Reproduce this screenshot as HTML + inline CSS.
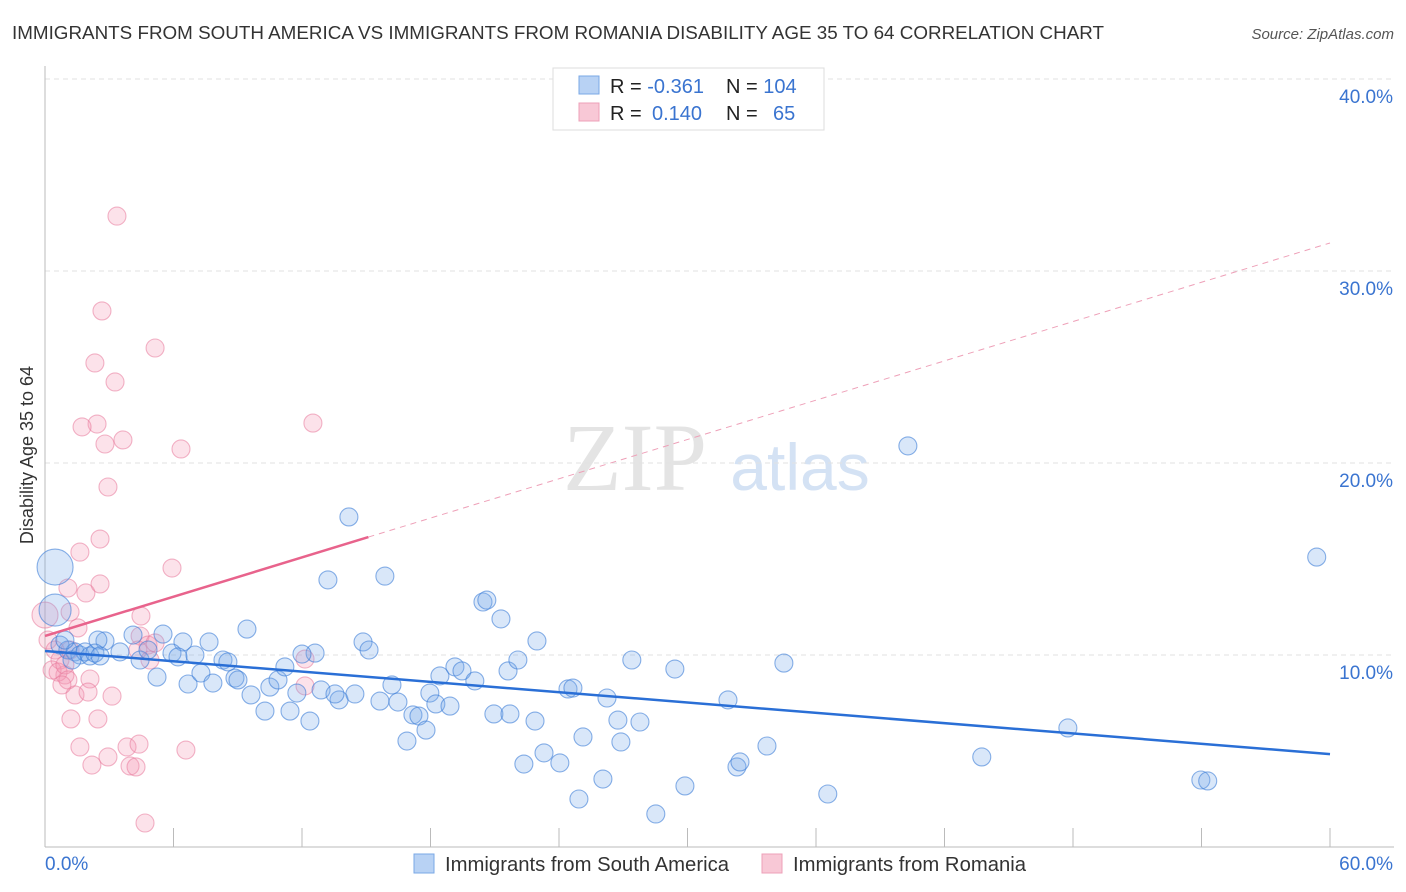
<!DOCTYPE html>
<html><head><meta charset="utf-8"><style>
body{margin:0;background:#fff;font-family:"Liberation Sans",sans-serif}
svg{display:block}
</style></head><body>
<svg id="chart" width="1406" height="892" xmlns="http://www.w3.org/2000/svg">
<text x="12" y="39" font-size="18" fill="#333" textLength="1092" lengthAdjust="spacingAndGlyphs">IMMIGRANTS FROM SOUTH AMERICA VS IMMIGRANTS FROM ROMANIA DISABILITY AGE 35 TO 64 CORRELATION CHART</text>
<text x="1394" y="39" font-size="15" fill="#555" font-style="italic" text-anchor="end">Source: ZipAtlas.com</text>
<text x="635" y="490" font-size="96" fill="#e4e4e4" font-family="Liberation Serif,serif" text-anchor="middle">ZIP</text>
<text x="800" y="490" font-size="66" fill="#d4e2f4" text-anchor="middle">atlas</text>
<text transform="translate(33,455) rotate(-90)" font-size="18" fill="#333" text-anchor="middle">Disability Age 35 to 64</text>
<g id="grid"></g><g id="pts"></g><g id="lines"></g>
<g>
<rect x="553" y="68" width="271" height="62" fill="#fff" stroke="#ddd"/>
<rect x="579" y="76" width="20" height="18" fill="#b8d2f4" stroke="#7aa8e6"/>
<rect x="579" y="103" width="20" height="18" fill="#f8c8d6" stroke="#eea0b8"/>
<text x="610" y="93" font-size="20" fill="#222">R = <tspan fill="#3a74d0">-0.361</tspan></text>
<text x="726" y="93" font-size="20" fill="#222">N = <tspan fill="#3a74d0">104</tspan></text>
<text x="610" y="120" font-size="20" fill="#222">R = <tspan fill="#3a74d0" x="652">0.140</tspan></text>
<text x="726" y="120" font-size="20" fill="#222">N = <tspan fill="#3a74d0" x="773">65</tspan></text>
</g>
<g>
<rect x="414" y="854" width="20" height="19" fill="#b8d2f4" stroke="#7aa8e6"/>
<text x="445" y="871" font-size="20" fill="#333" textLength="284" lengthAdjust="spacingAndGlyphs">Immigrants from South America</text>
<rect x="762" y="854" width="20" height="19" fill="#f8c8d6" stroke="#eea0b8"/>
<text x="793" y="871" font-size="20" fill="#333" textLength="233" lengthAdjust="spacingAndGlyphs">Immigrants from Romania</text>
</g>
</svg>
<script>
const yTicks=[10,20,30,40];
const yTickLabels=["10.0%","20.0%","30.0%","40.0%"];
const xTickVals=[0,6,12,18,24,30,36,42,48,54,60];
const blueX=[14.19,40.29,59.38,13.21,15.87,20.45,20.63,21.29,22.97,14.85,15.13,12.61,12.00,9.43,7.66,6.44,5.51,4.11,2.80,2.47,3.50,4.44,4.81,5.93,6.21,7.00,8.31,8.54,5.23,6.68,7.28,7.84,8.87,9.01,9.62,10.27,10.50,10.88,11.20,11.44,11.76,12.37,12.89,13.73,13.54,14.47,15.64,16.20,16.48,16.90,17.18,17.46,17.79,17.97,18.25,18.44,18.91,19.14,19.47,20.07,20.96,21.71,21.62,22.08,22.88,22.36,23.30,24.04,24.42,24.65,24.93,25.12,26.05,26.24,26.75,26.89,27.40,27.78,28.52,29.41,29.88,31.89,32.31,32.45,33.71,34.50,36.55,43.74,47.76,53.97,54.29,0.70,1.07,1.40,1.63,1.87,2.10,2.33,2.57,0.93,1.26,0.47,0.47];
const blueY=[17.19,20.89,15.10,13.91,14.11,12.76,12.86,11.88,10.73,10.68,10.26,10.10,10.05,11.35,10.68,10.68,11.09,11.04,10.73,10.78,10.16,9.74,10.26,10.10,9.90,10.00,9.74,9.64,8.85,8.49,9.06,8.54,8.80,8.70,7.92,7.08,8.33,8.70,9.38,7.08,8.02,6.56,8.18,7.66,7.97,7.97,7.60,8.44,7.55,5.52,6.88,6.82,6.09,8.02,7.45,8.91,7.34,9.38,9.17,8.65,6.93,6.93,9.17,9.74,6.56,4.32,4.90,4.38,8.23,8.28,2.50,5.73,3.54,7.76,6.61,5.47,9.74,6.51,1.72,9.27,3.18,7.66,4.17,4.43,5.26,9.58,2.76,4.69,6.20,3.49,3.44,10.52,10.26,10.16,10.0,10.16,9.95,10.10,9.95,10.78,9.74,14.58,12.34];
const blueBig={101:18,102:16};
const pinkX=[3.36,2.66,5.14,2.33,3.27,2.43,1.73,2.80,3.64,6.35,12.51,2.94,2.57,1.63,5.93,1.07,1.91,2.57,1.54,1.17,4.48,4.44,4.81,5.14,4.34,4.90,12.14,12.14,2.10,0.93,1.40,2.01,3.13,1.21,2.47,1.63,2.19,2.94,3.83,4.39,3.97,4.25,4.67,6.58,0.14,0.47,0.70,0.33,0.61,0.93,1.07,0.79,1.17,0.0];
const pinkY=[32.86,27.92,25.99,25.21,24.22,22.03,21.88,20.99,21.20,20.73,22.08,18.75,16.04,15.36,14.53,13.49,13.23,13.70,11.41,12.24,12.03,10.99,10.52,10.63,10.26,9.74,9.79,8.39,8.75,8.96,7.92,8.07,7.86,6.67,6.67,5.21,4.27,4.69,5.21,5.36,4.22,4.17,1.25,5.05,10.78,10.26,9.74,9.22,9.11,9.48,8.70,8.44,10.26,12.08];
const blueTrend=[10.21,4.84];
const pinkTrend=[10.99,31.46];
const pinkSolidEnd=15.1;
const X=v=>45+v*1285/60, Y=v=>847-v*19.2;
const NS="http://www.w3.org/2000/svg";
function mk(tag,attrs,parent){const e=document.createElementNS(NS,tag);for(const k in attrs)e.setAttribute(k,attrs[k]);parent.appendChild(e);return e;}
const grid=document.getElementById('grid');
yTicks.forEach((t,i)=>{
 const l=mk('line',{x1:45,x2:1394,y1:Y(t),y2:Y(t),stroke:'#e2e2e2','stroke-dasharray':'5,4'},grid);
 
 
 const tx=mk('text',{x:1393,y:Y(t)+24,'font-size':19,fill:'#3a74d0','text-anchor':'end'},grid);
 tx.textContent=yTickLabels[i];
 
 
});
const ax=mk('line',{x1:45,x2:45,y1:66,y2:847,stroke:'#bbb'},grid);


const bx=mk('line',{x1:45,x2:1394,y1:847,y2:847,stroke:'#bbb'},grid);


xTickVals.forEach(v=>{
 const t=mk('line',{x1:X(v),x2:X(v),y1:828,y2:847,stroke:'#bbb'},grid);
 
 
});
const xl=mk('text',{x:45,y:870,'font-size':19,fill:'#3a74d0'},grid);xl.textContent='0.0%';


const xr=mk('text',{x:1393,y:870,'font-size':19,fill:'#3a74d0','text-anchor':'end'},grid);xr.textContent='60.0%';


const pts=document.getElementById('pts');
pinkX.forEach((x,i)=>{
 const c=mk('circle',{cx:X(x),cy:Y(pinkY[i]),r:i===pinkX.length-1?13:9,fill:'rgba(244,150,178,0.28)',stroke:'rgba(232,120,155,0.55)','stroke-width':1.1},pts);
 
 
});
blueX.forEach((x,i)=>{
 const c=mk('circle',{cx:X(x),cy:Y(blueY[i]),r:blueBig[i]||9,fill:'rgba(120,168,232,0.28)',stroke:'rgba(60,125,215,0.6)','stroke-width':1.1},pts);
 
 
});
const lines=document.getElementById('lines');
const pt=x=>pinkTrend[0]+(pinkTrend[1]-pinkTrend[0])*x/60;
const l1=mk('line',{x1:X(0),y1:Y(blueTrend[0]),x2:X(60),y2:Y(blueTrend[1]),stroke:'#2a6fd6','stroke-width':2.5},lines);


const l2=mk('line',{x1:X(0),y1:Y(pt(0)),x2:X(pinkSolidEnd),y2:Y(pt(pinkSolidEnd)),stroke:'#e8638c','stroke-width':2.5},lines);


const l3=mk('line',{x1:X(pinkSolidEnd),y1:Y(pt(pinkSolidEnd)),x2:X(60),y2:Y(pt(60)),stroke:'#eea0b8','stroke-width':1,'stroke-dasharray':'6,5'},lines);


</script>
</body></html>
